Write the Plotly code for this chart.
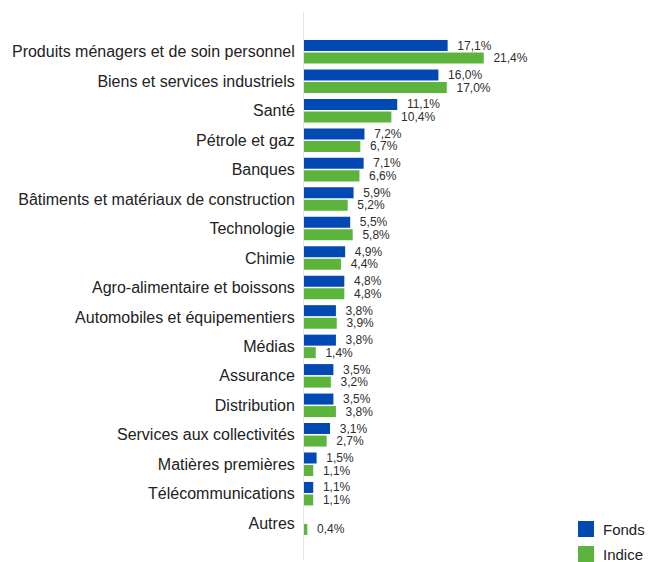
import plotly.graph_objects as go

# Sector weights (%) of the fund versus its benchmark index
categories = [
    "Produits ménagers et de soin personnel",
    "Biens et services industriels",
    "Santé",
    "Pétrole et gaz",
    "Banques",
    "Bâtiments et matériaux de construction",
    "Technologie",
    "Chimie",
    "Agro-alimentaire et boissons",
    "Automobiles et équipementiers",
    "Médias",
    "Assurance",
    "Distribution",
    "Services aux collectivités",
    "Matières premières",
    "Télécommunications",
    "Autres",
]
fonds = [17.1, 16.0, 11.1, 7.2, 7.1, 5.9, 5.5, 4.9, 4.8, 3.8, 3.8, 3.5, 3.5, 3.1, 1.5, 1.1, None]
indice = [21.4, 17.0, 10.4, 6.7, 6.6, 5.2, 5.8, 4.4, 4.8, 3.9, 1.4, 3.2, 3.8, 2.7, 1.1, 1.1, 0.4]

series_names = ["Fonds", "Indice"]
series_colors = ["#0349b4", "#5cb43c"]

W, H = 648, 562
ML, MR, MT, MB = 304, 92, 12, 2
plot_w = W - ML - MR
plot_h = H - MT - MB
X_MAX = 30.0
FONT = "Liberation Sans, Arial, sans-serif"


def fmt(v):
    if v is None:
        return ""
    return "\u00a0\u00a0" + f"{v:.1f}".replace(".", ",") + "%"


fig = go.Figure()
for name, vals, col in zip(series_names, [fonds, indice], series_colors):
    fig.add_trace(go.Bar(
        y=categories,
        x=vals,
        name=name,
        orientation="h",
        marker=dict(color=col, line=dict(width=0)),
        text=[fmt(v) for v in vals],
        textposition="outside",
        constraintext="none",
        cliponaxis=False,
        textfont=dict(family=FONT, size=12, color="#2e2e2e"),
        showlegend=False,
        hoverinfo="skip",
    ))

# Legend drawn as fixed-size swatches with labels at the lower right
def px_to_paper_x(px):
    return (px - ML) / plot_w


def px_to_paper_y(py):
    return (H - MB - py) / plot_h


legend_rows = [529, 554]
for (name, col), cy in zip(zip(series_names, series_colors), legend_rows):
    fig.add_shape(
        type="rect", xref="paper", yref="paper",
        xsizemode="pixel", ysizemode="pixel",
        xanchor=px_to_paper_x(578), yanchor=px_to_paper_y(cy),
        x0=0, x1=16, y0=-8, y1=8,
        fillcolor=col, line=dict(width=0),
    )
    fig.add_annotation(
        xref="paper", yref="paper",
        x=px_to_paper_x(601), y=px_to_paper_y(cy),
        xanchor="left", yanchor="middle",
        text=name, showarrow=False,
        font=dict(family=FONT, size=15, color="#222222"),
    )

fig.update_layout(
    width=W, height=H,
    margin=dict(l=ML, r=MR, t=MT, b=MB),
    paper_bgcolor="white", plot_bgcolor="white",
    barmode="group", bargap=0.15, bargroupgap=0.12,
    font=dict(family=FONT, size=16, color="#222222"),
    showlegend=False,
)
fig.update_xaxes(
    range=[0, X_MAX], showgrid=False, zeroline=False,
    showticklabels=False, showline=False, ticks="",
)
fig.update_yaxes(
    type="category", categoryorder="array", categoryarray=categories,
    range=[len(categories) - 0.5 + 0.75, -0.5 - 0.85],
    showgrid=False, zeroline=False,
    showline=True, linecolor="#e4e4e4", linewidth=1,
    ticks="outside", ticklen=5, tickcolor="rgba(0,0,0,0)",
    tickfont=dict(family=FONT, size=16, color="#222222"),
)

fig.write_html("out.html")
